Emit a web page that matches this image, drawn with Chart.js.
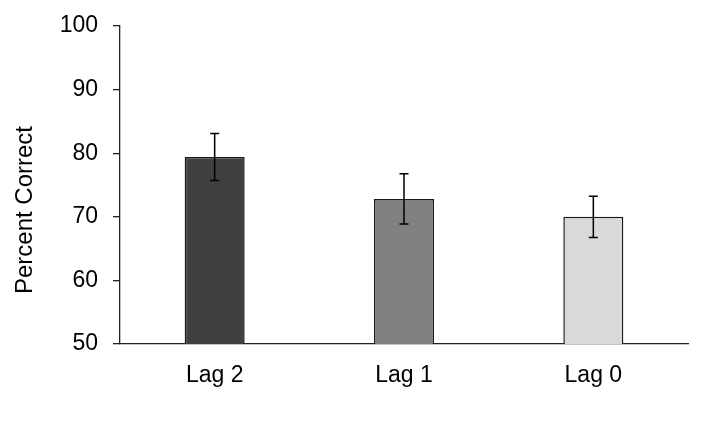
<!DOCTYPE html>
<html>
<head>
<meta charset="utf-8">
<script src="https://cdn.jsdelivr.net/npm/chart.js@4.4.1/dist/chart.umd.min.js"></script>
<style>
  html, body { margin: 0; padding: 0; background: #ffffff; }
  #wrap { width: 712px; height: 430px; }
</style>
</head>
<body>
<div id="wrap"><canvas id="c" width="712" height="430"></canvas></div>
<script>
const categories = ["Lag 2", "Lag 1", "Lag 0"];
const meanValues = [79.4, 72.8, 70.0];
const errorValues = [3.7, 3.95, 3.25];
const barColors = ["#404040", "#808080", "#d9d9d9"];
const yTicks = [50, 60, 70, 80, 90, 100];
const yTitle = "Percent Correct";

const FONT = 'Liberation Sans, Arial, sans-serif';

const errorBarPlugin = {
  id: 'errorBars',
  afterDatasetsDraw(chart) {
    const ctx = chart.ctx;
    const meta = chart.getDatasetMeta(0);
    const y = chart.scales.y;
    ctx.save();
    ctx.strokeStyle = '#000000';
    ctx.lineWidth = 1.5;
    meta.data.forEach((bar, i) => {
      const x = bar.x;
      const top = y.getPixelForValue(meanValues[i] + errorValues[i]);
      const bot = y.getPixelForValue(meanValues[i] - errorValues[i]);
      const cap = 4.5;
      ctx.beginPath();
      ctx.moveTo(x, top); ctx.lineTo(x, bot);
      ctx.moveTo(x - cap, top); ctx.lineTo(x + cap, top);
      ctx.moveTo(x - cap, bot); ctx.lineTo(x + cap, bot);
      ctx.stroke();
    });
    ctx.restore();
  }
};

const yTitlePlugin = {
  id: 'yTitle',
  afterDraw(chart) {
    const ctx = chart.ctx;
    ctx.save();
    ctx.translate(25, 210);
    ctx.rotate(-Math.PI / 2);
    ctx.fillStyle = '#000000';
    ctx.font = '24px ' + FONT;
    ctx.textAlign = 'center';
    ctx.textBaseline = 'middle';
    ctx.fillText(yTitle, 0, 0);
    ctx.restore();
  }
};

new Chart(document.getElementById('c'), {
  type: 'bar',
  data: {
    labels: categories,
    datasets: [{
      data: meanValues,
      backgroundColor: barColors,
      borderColor: '#1a1a1a',
      borderWidth: 1.5,
      barPercentage: 0.317,
      categoryPercentage: 1.0
    }]
  },
  options: {
    responsive: false,
    animation: false,
    devicePixelRatio: 1,
    layout: { padding: { top: 26, right: 24, left: 0, bottom: 0 } },
    plugins: { legend: { display: false }, tooltip: { enabled: false } },
    scales: {
      x: {
        grid: { display: false },
        border: { display: true, color: '#222222', width: 1.3 },
        ticks: { color: '#000000', font: { family: FONT, size: 23 }, padding: 10 },
        afterFit(s) { s.height = 430 - 344; s.paddingLeft = 0; s.paddingRight = 0; }
      },
      y: {
        min: 50, max: 100,
        afterBuildTicks(s) { s.ticks = yTicks.map(v => ({ value: v })); },
        grid: { display: true, drawOnChartArea: false, drawTicks: true, tickLength: 7, color: '#222222', lineWidth: 1.3 },
        border: { display: true, color: '#222222', width: 1.3 },
        ticks: { color: '#000000', font: { family: FONT, size: 23 }, padding: 15 },
        afterFit(s) { s.width = 120; s.paddingTop = 0; s.paddingBottom = 0; }
      }
    }
  },
  plugins: [errorBarPlugin, yTitlePlugin]
});
</script>
</body>
</html>
